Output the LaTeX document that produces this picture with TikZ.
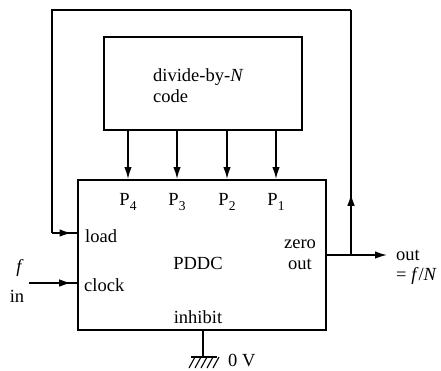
\documentclass[tikz,border=0pt]{standalone}
\usepackage{fontspec}
\setmainfont{Liberation Serif}
\usetikzlibrary{arrows.meta,decorations.markings}
\begin{document}
\begin{tikzpicture}[x=1pt,y=-1pt,
  every node/.style={font=\fontsize{18.5}{21}\selectfont, inner sep=0pt},
  blockbox/.style={draw, line width=2pt, rectangle},
  wire/.style={line width=1.5pt},
  arr/.style={wire, -{Latex[length=12pt,width=7.5pt]}},
  midarr/.style={wire, postaction={decorate}, decoration={markings, mark=at position #1 with {\arrow{Latex[length=12pt,width=7.5pt]}}}}
]
\useasboundingbox (0,0) rectangle (441,370);
% boxes
\node[blockbox, minimum width=198pt, minimum height=93pt] (divbox) at (203,83.5) {};
\node[blockbox, minimum width=248pt, minimum height=150pt] (pddc) at (202,255) {};
% texts in divide box
\node[align=left, anchor=west] (divtxt) at (153,86) {divide-by-\textit{N}\\code};
% P labels
\newcommand{\psub}[1]{P\raisebox{-5pt}{\fontsize{13.5}{13.5}\selectfont #1}}
\node[anchor=base] (p4) at (128,205) {\psub{4}};
\node[anchor=base] (p3) at (177,205) {\psub{3}};
\node[anchor=base] (p2) at (227,205) {\psub{2}};
\node[anchor=base] (p1) at (276,205) {\psub{1}};
\foreach \p in {p4,p3,p2,p1} {
  \draw[arr] (divbox.south -| \p) -- (pddc.north -| \p);
}
% inner labels
\node[anchor=west] (load) at (85,236) {load};
\node[anchor=west] (clock) at (84,285) {clock};
\node (pddctxt) at (198,263) {PDDC};
\node[align=center] (zero) at (300,255) {zero\\out};
\node (inhibit) at (198,317) {inhibit};
% input
\coordinate (fin) at (29,283);
\node (flabel) at (20,268) {\textit{f}};
\node (inlabel) at (17,296) {in};
\draw[midarr=0.88] (fin) -- (pddc.west |- fin);
% output
\coordinate (j) at (351,255);
\coordinate (oe) at (387,255);
\draw[wire] (pddc.east |- j) -- (j);
\draw[arr] (j) -- (oe);
\node[anchor=west] (outlbl) at (396,255) {out};
\node[anchor=west] (eqlbl) at (396,276) {= \textit{f}/\textit{N}};
% feedback loop
\coordinate (tr) at (351,10);
\coordinate (tl) at (52,10);
\coordinate (ld) at (52,233);
\draw[midarr=0.25] (j) -- (tr);
\draw[wire] (tr) -- (tl) -- (ld);
\draw[midarr=0.78] (ld) -- (pddc.west |- ld);
% ground
\coordinate (g) at (203,357);
\draw[wire] (pddc.south -| g) -- (g);
\draw[wire] (191,357) -- (217,357);
\foreach \x in {195,201,207,213,219} {
  \draw[line width=1.1pt] (\x,357) -- (\x-6,368);
}
\node[anchor=west] (zv) at (228,360) {0 V};
\end{tikzpicture}
\end{document}
